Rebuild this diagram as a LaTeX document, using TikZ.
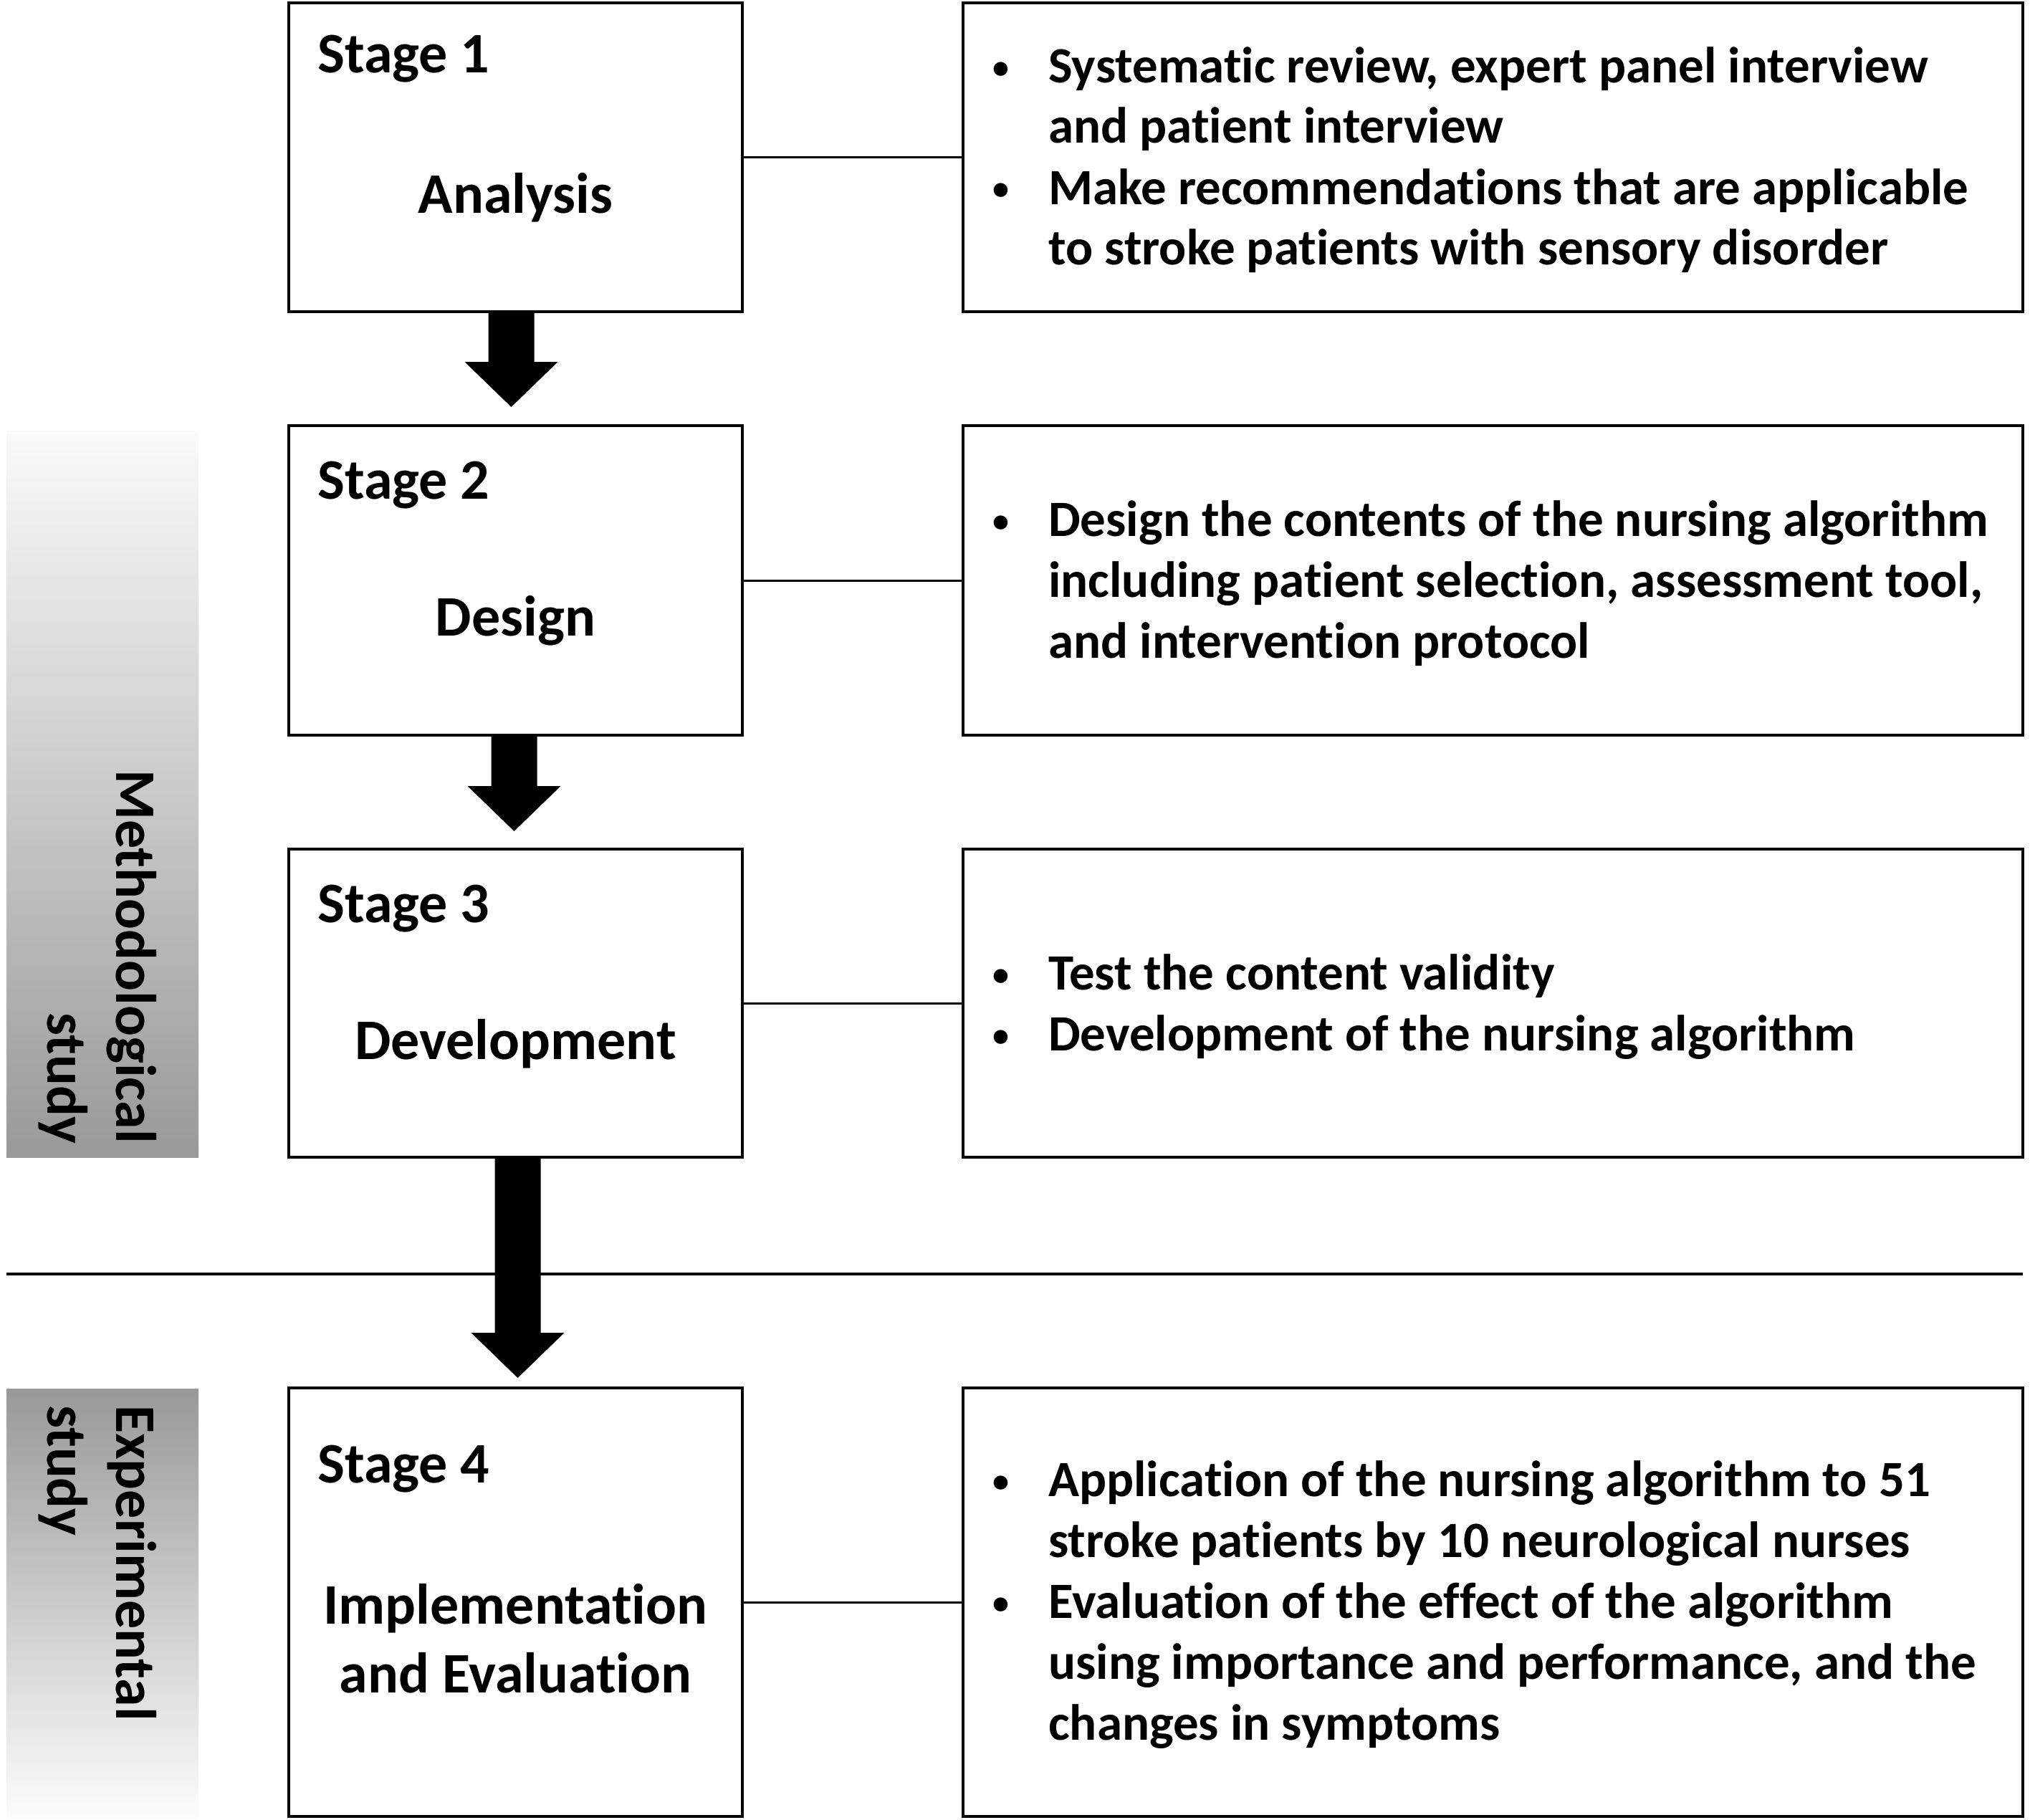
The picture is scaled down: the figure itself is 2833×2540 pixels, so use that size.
\documentclass[tikz,border=0pt]{standalone}
\usepackage{fontspec}
\setmainfont{Carlito}[Ligatures=NoCommon]
\usetikzlibrary{calc}
\newcommand\bul{\leavevmode\llap{\makebox[0pt][c]{\raisebox{6pt}{\fontsize{46}{46}\selectfont\textbullet}}\hspace{66pt}}}
\newcommand\blockarr[2]{%
  \fill ($(#1 -| #2)+(-32,0)$) -- ($(#1 -| #2)+(32,0)$) -- ($(#2)+(32,-63)$) -- ($(#2)+(65,-63)$) -- (#2) -- ($(#2)+(-65,-63)$) -- ($(#2)+(-32,-63)$) -- cycle;}
\tikzset{
  stagebox/.style={draw, line width=4pt, minimum width=633pt, inner sep=0pt, outer sep=0pt},
  infobox/.style={draw, line width=4pt, minimum width=1479pt, inner sep=0pt, outer sep=0pt},
  link/.style={line width=3pt},
  sepline/.style={line width=4pt},
  title/.style={font=\fontsize{80}{96}\selectfont\bfseries, inner sep=0pt},
  body/.style={font=\fontsize{71}{85}\selectfont\bfseries, inner sep=0pt},
}
\begin{document}
\begin{tikzpicture}[x=1pt, y=-1pt]
\useasboundingbox (0,0) rectangle (2833,2540);
% gradient bars
\shade[top color=black!2, bottom color=black!40] (9,601) rectangle (277,1615);
\shade[top color=black!40, bottom color=black!1] (9,1938) rectangle (277,2538);
\node[title, rotate=-90, anchor=base east] (meth) at (162,1596)
  {\begin{tabular}[t]{@{}r@{}}Methodological\\study\end{tabular}};
\node[title, rotate=-90, anchor=base west] (expe) at (162,1961)
  {\begin{tabular}[t]{@{}l@{}}Experimental\\study\end{tabular}};
% separator
\coordinate (sepL) at (9,1778);
\coordinate (sepR) at (2823,1778);
\draw[sepline] (sepL) -- (sepR);
% stage boxes
\node[stagebox, minimum height=431pt] (s1) at (719.5,219.5) {};
\node[stagebox, minimum height=432pt] (s2) at (719.5,810) {};
\node[stagebox, minimum height=430pt] (s3) at (719.5,1400) {};
\node[stagebox, minimum height=598pt] (s4) at (719.5,2236) {};
% info boxes
\node[infobox, minimum height=431pt] (r1) at (2083.5,219.5) {};
\node[infobox, minimum height=432pt] (r2) at (2083.5,810) {};
\node[infobox, minimum height=430pt] (r3) at (2083.5,1400) {};
\node[infobox, minimum height=598pt] (r4) at (2083.5,2236) {};
% connectors
\draw[link] (s1.east) -- (r1.west);
\draw[link] (s2.east) -- (r2.west);
\draw[link] (s3.east) -- (r3.west);
\draw[link] (s4.east) -- (r4.west);
% block arrows
\coordinate (tip1) at ($(s2.north)+(-6,-26)$);
\coordinate (tip2) at ($(s3.north)+(-2,-25)$);
\coordinate (tip3) at ($(s4.north)+(3,-14)$);
\blockarr{s1.south}{tip1}
\blockarr{s2.south}{tip2}
\blockarr{s3.south}{tip3}
% stage titles
\node[title, anchor=base west] (st1) at (443,101) {Stage 1};
\node[title, anchor=base west] (st2) at (443,696) {Stage 2};
\node[title, anchor=base west] (st3) at (443,1287) {Stage 3};
\node[title, anchor=base west] (st4) at (443,2069) {Stage 4};
\node[title, anchor=base] (n1) at (719.5,297) {Analysis};
\node[title, anchor=base] (n2) at (719.5,887) {Design};
\node[title, anchor=base] (n3) at (719.5,1478) {Development};
\node[title, anchor=base] (n4) at (719.5,2266)
  {\begin{tabular}[t]{@{}c@{}}Implementation\\and Evaluation\end{tabular}};
% info texts
\node[body, anchor=base west] (b1) at (1463,115)
  {\begin{tabular}[t]{@{}l@{}}\bul Systematic review, expert panel interview\\
   and patient interview\\
   \bul Make recommendations that are applicable\\
   to stroke patients with sensory disorder\end{tabular}};
\node[body, anchor=base west] (b2) at (1463,748)
  {\begin{tabular}[t]{@{}l@{}}\bul Design the contents of the nursing algorithm\\
   including patient selection, assessment tool,\\
   and intervention protocol\end{tabular}};
\node[body, anchor=base west] (b3) at (1463,1381)
  {\begin{tabular}[t]{@{}l@{}}\bul Test the content validity\\
   \bul Development of the nursing algorithm\end{tabular}};
\node[body, anchor=base west] (b4) at (1463,2088)
  {\begin{tabular}[t]{@{}l@{}}\bul Application of the nursing algorithm to 51\\
   stroke patients by 10 neurological nurses\\
   \bul Evaluation of the effect of the algorithm\\
   using importance and performance, and the\\
   changes in symptoms\end{tabular}};
\end{tikzpicture}
\end{document}
